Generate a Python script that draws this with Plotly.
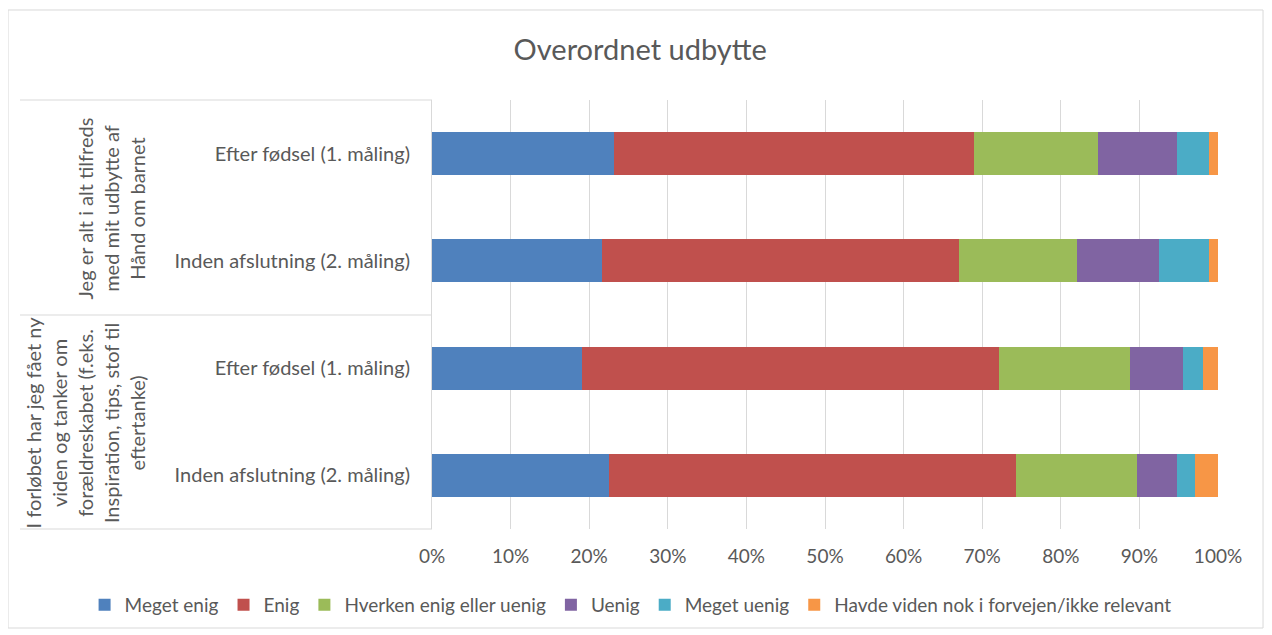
import plotly.graph_objects as go

# rows, top to bottom
rows = ['Efter fødsel (1. måling)', 'Inden afslutning (2. måling)',
        'Efter fødsel (1. måling)', 'Inden afslutning (2. måling)']
groups = ['Jeg er alt i alt tilfreds<br>med mit udbytte af<br>Hånd om barnet',
          'I forløbet har jeg fået ny<br>viden og tanker om<br>forældreskabet (f.eks.<br>Inspiration, tips, stof til<br>eftertanke)']

series = ['Meget enig', 'Enig', 'Hverken enig eller uenig', 'Uenig', 'Meget uenig',
          'Havde viden nok i forvejen/ikke relevant']
colors = ['#4F81BD', '#C0504D', '#9BBB59', '#8064A2', '#4BACC6', '#F79646']

meget_enig = [0.231, 0.216, 0.191, 0.225]
enig = [0.458, 0.455, 0.530, 0.518]
hverken = [0.158, 0.149, 0.167, 0.154]
uenig = [0.101, 0.105, 0.067, 0.051]
meget_uenig = [0.041, 0.064, 0.026, 0.023]
havde_viden = [0.011, 0.011, 0.019, 0.029]

values = [meget_enig, enig, hverken, uenig, meget_uenig, havde_viden]
ypos = list(range(len(rows)))

fnt = 'Lato, Carlito, Calibri, sans-serif'
grey = '#595959'

fig = go.Figure()
for name, vals, c in zip(series, values, colors):
    fig.add_trace(go.Bar(x=vals, y=ypos, name=name, orientation='h',
                         marker_color=c, marker_line_width=0))

fig.update_layout(
    barmode='stack', bargap=0.6,
    width=1272, height=635,
    margin=dict(l=424, r=62, t=92, b=114, autoexpand=False),
    paper_bgcolor='white', plot_bgcolor='white',
    font=dict(family=fnt, size=20, color=grey),
    title=dict(text='Overordnet udbytte', x=0.497, xref='container', xanchor='center',
               y=0.934, yref='container', yanchor='middle',
               font=dict(size=29, color=grey)),
    legend=dict(orientation='h', x=-0.442, xanchor='left',
                y=-0.177, yanchor='middle', bgcolor='rgba(0,0,0,0)',
                font=dict(size=19, color=grey), traceorder='normal', itemwidth=30),
    xaxis=dict(range=[0, 1], tickformat='.0%', dtick=0.1, showgrid=True,
               gridcolor='#D9D9D9', gridwidth=1, zeroline=False, showline=False,
               ticklabelstandoff=14, tickfont=dict(size=19, color=grey)),
    yaxis=dict(tickvals=ypos, ticktext=rows, autorange='reversed', showgrid=False,
               showline=True, linecolor='#D9D9D9', linewidth=1, zeroline=False,
               ticklabelstandoff=17, tickfont=dict(size=20, color=grey)),
)

# outer chart border
fig.add_shape(type='rect', xref='paper', yref='paper', x0=-0.5394, x1=1.0573,
              y0=-0.2308, y1=1.2098, line=dict(color='#D9D9D9', width=1), layer='below')
# category group dividers
for yy in [1.0, 0.4988, 0.0]:
    fig.add_shape(type='line', xref='paper', yref='paper', x0=-0.5242, x1=0, y0=yy, y1=yy,
                  line=dict(color='#D9D9D9', width=1))

for g, yc in zip(groups, [0.748, 0.2494]):
    fig.add_annotation(text=g, xref='paper', yref='paper', x=-0.357, y=yc,
                       xanchor='right', yanchor='middle', textangle=-90, showarrow=False,
                       align='center', font=dict(size=20, color=grey))

fig.write_html('out.html')
